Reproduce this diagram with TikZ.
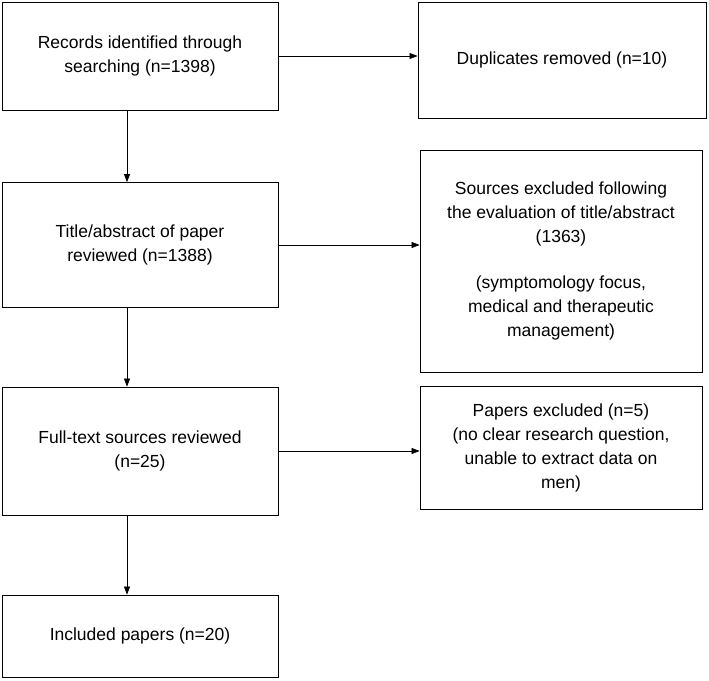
\documentclass[tikz,border=0pt]{standalone}
\usepackage{fontspec}
\setmainfont{Liberation Sans}
\usetikzlibrary{arrows.meta}
\tikzset{
    box/.style={draw, line width=0.8pt, rectangle, align=center, inner sep=0pt, font=\fontsize{17.5}{24}\selectfont},
    arr/.style={-{Triangle[length=8pt,width=6pt]}, line width=0.7pt}
}
\begin{document}
\begin{tikzpicture}[x=1pt,y=-1pt]
    \useasboundingbox (0,0) rectangle (709,680);

    \node[box, minimum width=276pt, minimum height=108pt] (a) at (140, 56) {Records identified through\\searching (n=1398)};
    \node[box, minimum width=288pt, minimum height=116pt] (b) at (562, 60) {Duplicates removed (n=10)};
    \node[box, minimum width=276pt, minimum height=125pt] (c) at (140, 245) {Title/abstract of paper\\reviewed (n=1388)};
    \node[box, minimum width=282pt, minimum height=222pt] (d) at (561, 261) {Sources excluded following\\the evaluation of title/abstract\\(1363)\\[22pt](symptomology focus,\\medical and therapeutic\\management)};
    \node[box, minimum width=276pt, minimum height=128pt] (e) at (140, 451) {Full-text sources reviewed\\(n=25)};
    \node[box, minimum width=282pt, minimum height=123pt] (f) at (561, 448) {Papers excluded (n=5)\\(no clear research question,\\unable to extract data on\\men)};
    \node[box, minimum width=276pt, minimum height=82pt] (g) at (140, 636) {Included papers (n=20)};

    \draw[arr] (a.east) -- (a.east -| b.west);
    \draw[arr] (c.east) -- (c.east -| d.west);
    \draw[arr] (e.east) -- (e.east -| f.west);
    \draw[arr] ([xshift=-13pt]a.south) -- ([xshift=-13pt]c.north);
    \draw[arr] ([xshift=-13pt]c.south) -- ([xshift=-13pt]e.north);
    \draw[arr] ([xshift=-13pt]e.south) -- ([xshift=-13pt]g.north);
\end{tikzpicture}
\end{document}
